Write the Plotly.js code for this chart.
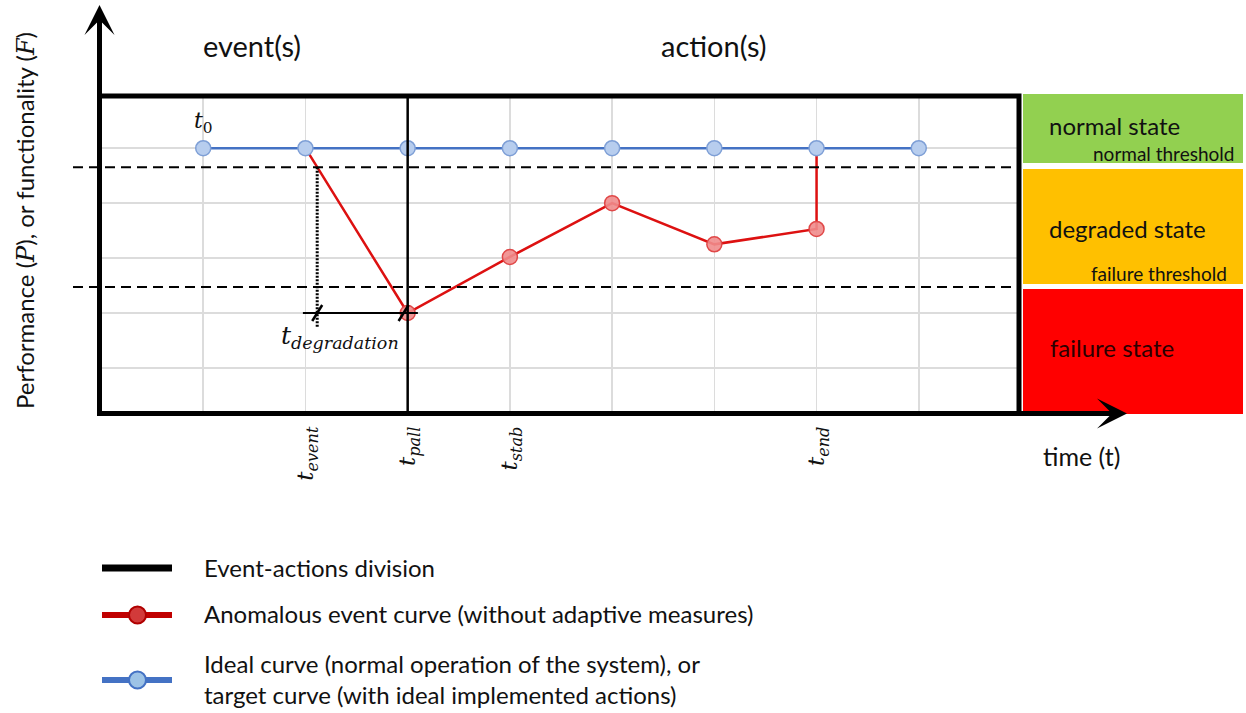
<!DOCTYPE html>
<html>
<head>
<meta charset="utf-8">
<script src="https://cdn.plot.ly/plotly-3.0.1.min.js"></script>
<style>html,body{margin:0;padding:0;background:#fff;}#chart{width:1246px;height:713px;}</style>
</head>
<body>
<div id="chart"></div>
<script>
// ---- data ----
const timeSteps = [1, 2, 3, 4, 5, 6, 7, 8];
const idealPerf = [5, 5, 5, 5, 5, 5, 5, 5];
const anomalousTime = [2, 3, 4, 5, 6, 7, 7];
const anomalousPerf = [5, 2.0, 3.02, 4.0, 3.25, 3.53, 5];
const thresholdNames = ['normal threshold', 'failure threshold'];
const thresholdValues = [4.655, 2.473];
const tickTimes = [2, 3, 4, 7];
const tickLabels = ['<i>t</i><sub><i>event</i></sub>', '<i>t</i><sub><i>pall</i></sub>', '<i>t</i><sub><i>stab</i></sub>', '<i>t</i><sub><i>end</i></sub>'];
const divisionTime = [3];
const stateNames = ['normal state', 'degraded state', 'failure state'];
const legendNames = ['Event-actions division', 'Anomalous event curve (without adaptive measures)', 'Ideal curve (normal operation of the system), or<br>target curve (with ideal implemented actions)'];

// ---- helpers (pixel -> paper) ----
const W = 1246, H = 713;
const X = v => v / W;
const Y = v => 1 - v / H;
const SANS = 'Lato, "Open Sans", sans-serif';
const SERIF = '"DejaVu Serif", serif';

// crossing of anomalous curve with normal threshold
const thr = thresholdValues[0];
const xCross = anomalousTime[0] + (anomalousPerf[0] - thr) / (anomalousPerf[0] - anomalousPerf[1]) * (anomalousTime[1] - anomalousTime[0]);
const minPerf = Math.min(...anomalousPerf);

const traces = [
  {
    x: anomalousTime, y: anomalousPerf, type: 'scatter', mode: 'lines+markers',
    line: {color: '#dd1111', width: 2.5},
    marker: {size: 15, color: 'rgba(240,140,140,0.9)', line: {color: '#e04848', width: 1.5},
             opacity: anomalousPerf.map((v, i) => (i === 0 || i === anomalousPerf.length - 1) ? 0 : 1)},
    hoverinfo: 'skip', showlegend: false
  },
  {
    x: timeSteps, y: idealPerf, type: 'scatter', mode: 'lines+markers',
    line: {color: '#4472C4', width: 2.5},
    marker: {size: 15, color: '#b7cdee', line: {color: '#7e9fd6', width: 1.5}},
    hoverinfo: 'skip', showlegend: false
  }
];

const shapes = [];
// state bands
shapes.push({type: 'rect', xref: 'paper', yref: 'paper', x0: X(1023), x1: X(1243), y0: Y(163), y1: Y(94), fillcolor: '#92D050', line: {width: 0}, layer: 'below'});
shapes.push({type: 'rect', xref: 'paper', yref: 'paper', x0: X(1023), x1: X(1243), y0: Y(284), y1: Y(169), fillcolor: '#FFC000', line: {width: 0}, layer: 'below'});
shapes.push({type: 'rect', xref: 'paper', yref: 'paper', x0: X(1023), x1: X(1243), y0: Y(414), y1: Y(289), fillcolor: '#FF0000', line: {width: 0}, layer: 'below'});
// threshold dashed lines
thresholdValues.forEach(v => shapes.push({type: 'line', xref: 'paper', yref: 'y', x0: X(73), x1: X(1017), y0: v, y1: v, line: {color: '#000', width: 2, dash: '10px,6px'}}));
// event-action division
divisionTime.forEach(t => shapes.push({type: 'line', xref: 'x', yref: 'paper', x0: t, x1: t, y0: Y(413), y1: Y(96), line: {color: '#000', width: 2.5}}));
// dotted drop at threshold crossing
shapes.push({type: 'line', xref: 'x', yref: 'y', x0: xCross, x1: xCross, y0: thr, y1: minPerf - 0.25, line: {color: '#000', width: 3, dash: '2px,1.5px'}});
// degradation span
shapes.push({type: 'line', xref: 'x', yref: 'y', x0: xCross - 0.14, x1: anomalousTime[1] + 0.1, y0: minPerf, y1: minPerf, line: {color: '#000', width: 2}});
[xCross, anomalousTime[1] - 0.04].forEach(t => shapes.push({type: 'line', xref: 'x', yref: 'y', xsizemode: 'pixel', ysizemode: 'pixel', xanchor: t, yanchor: minPerf, x0: -5, x1: 5, y0: -8, y1: 8, line: {color: '#000', width: 2.5}}));
// frame
shapes.push({type: 'rect', xref: 'paper', yref: 'paper', x0: X(99.5), x1: X(1019), y0: Y(413.5), y1: Y(96), line: {color: '#000', width: 5}, fillcolor: 'rgba(0,0,0,0)'});
// legend symbols
shapes.push({type: 'line', xref: 'paper', yref: 'paper', x0: X(102), x1: X(172), y0: Y(568), y1: Y(568), line: {color: '#000', width: 7}});
shapes.push({type: 'line', xref: 'paper', yref: 'paper', x0: X(102), x1: X(172), y0: Y(615), y1: Y(615), line: {color: '#C00000', width: 6}});
shapes.push({type: 'circle', xref: 'paper', yref: 'paper', x0: X(129), x1: X(146), y0: Y(623.5), y1: Y(606.5), fillcolor: '#d23a3a', line: {color: '#b00000', width: 2}});
shapes.push({type: 'line', xref: 'paper', yref: 'paper', x0: X(102), x1: X(172), y0: Y(680), y1: Y(680), line: {color: '#4472C4', width: 6}});
shapes.push({type: 'circle', xref: 'paper', yref: 'paper', x0: X(129), x1: X(146), y0: Y(688.5), y1: Y(671.5), fillcolor: '#9dc3e6', line: {color: '#4472C4', width: 2}});

const ann = [];
const txt = (x, y, text, size, opts) => Object.assign({xref: 'paper', yref: 'paper', x: X(x), y: Y(y), text: text, showarrow: false,
  font: {family: SANS, size: size, color: '#111'}, xanchor: 'center', yanchor: 'middle'}, opts || {});
// axis arrows
ann.push({xref: 'paper', yref: 'paper', x: X(99.5), y: Y(5), ax: 0, ay: 410, text: '', showarrow: true, arrowhead: 3, arrowsize: 1, arrowwidth: 5, arrowcolor: '#000', standoff: 0, startstandoff: 0});
ann.push({xref: 'paper', yref: 'paper', x: X(1127), y: Y(413.5), ax: -1030, ay: 0, text: '', showarrow: true, arrowhead: 3, arrowsize: 1, arrowwidth: 5, arrowcolor: '#000', standoff: 0, startstandoff: 0});
// axis titles
ann.push(txt(25, 221, 'Performance (<span style="font-family:DejaVu Serif"><i>P</i></span>), or functionality (<span style="font-family:DejaVu Serif"><i>F</i></span>)', 24, {textangle: -90}));
ann.push(txt(1081, 456, 'time (t)', 25));
// headers
ann.push(txt(252, 45, 'event(s)', 29));
ann.push(txt(714, 45, 'action(s)', 29));
// math labels
ann.push({xref: 'x', yref: 'paper', x: timeSteps[0], y: Y(122), xanchor: 'center', yanchor: 'middle', text: '<i>t</i><sub>0</sub>', showarrow: false, font: {family: SERIF, size: 22, color: '#111'}});
ann.push(txt(340, 337, '<i>t</i><sub><i>degradation</i></sub>', 25, {font: {family: SERIF, size: 25, color: '#111'}}));
// state labels
ann.push(txt(1047, 125, stateNames[0], 24, {xanchor: 'left'}));
ann.push(txt(1236, 153, thresholdNames[0], 19, {xanchor: 'right'}));
ann.push(txt(1047, 228, stateNames[1], 24, {xanchor: 'left'}));
ann.push(txt(1229, 273, thresholdNames[1], 19, {xanchor: 'right'}));
ann.push(txt(1048, 347, stateNames[2], 24, {xanchor: 'left', font: {family: SANS, size: 24, color: '#2a0000'}}));
// legend text
ann.push(txt(202, 567, legendNames[0], 24, {xanchor: 'left'}));
ann.push(txt(202, 613, legendNames[1], 24, {xanchor: 'left'}));
ann.push(txt(202, 679, legendNames[2], 24, {xanchor: 'left', align: 'left'}));

const layout = {
  width: W, height: H,
  margin: {l: 0, r: 0, t: 0, b: 0},
  paper_bgcolor: '#fff', plot_bgcolor: '#fff',
  showlegend: false,
  xaxis: {
    domain: [X(101), X(1021)], range: [0, 9],
    showline: false, zeroline: false,
    showgrid: true, gridcolor: '#dcdcdc', gridwidth: 1.5,
    tickmode: 'array', tickvals: tickTimes, ticktext: tickLabels, ticks: '',
    tickangle: -90, tickfont: {family: SERIF, size: 23, color: '#111'},
    ticklabelstandoff: 8,
    minor: {dtick: 1, tick0: 0, showgrid: true, gridcolor: '#dcdcdc', gridwidth: 1.5, ticks: ''},
    fixedrange: true
  },
  yaxis: {
    domain: [Y(413), Y(96)], range: [0.18, 5.95],
    showline: false, zeroline: false, showticklabels: false, ticks: '',
    tickmode: 'array', tickvals: [1, 2, 3, 4, 5],
    showgrid: true, gridcolor: '#dcdcdc', gridwidth: 1.5,
    fixedrange: true
  },
  shapes: shapes,
  annotations: ann
};

Plotly.newPlot('chart', traces, layout, {staticPlot: true, displayModeBar: false});
</script>
</body>
</html>
